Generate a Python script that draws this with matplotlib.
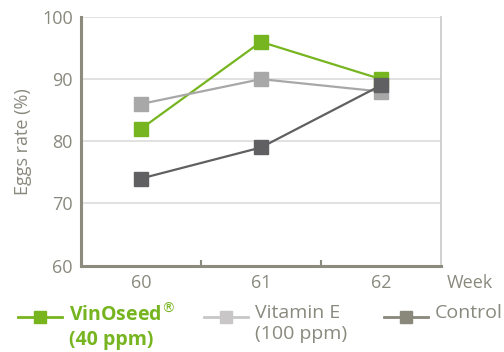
import matplotlib.pyplot as plt
from matplotlib.lines import Line2D

# data
weeks = ["60", "61", "62"]
vinoseed = [82, 96, 90]
vitamin_e = [86, 90, 88]
control = [74, 79, 89]
y_ticks = [60, 70, 80, 90, 100]

green = "#76b51f"
light = "#a8a8a8"
dark = "#606062"
axis_col = "#8c8b7e"
text_col = "#8a897e"

plt.rcParams["font.family"] = ["Open Sans", "DejaVu Sans"]

fig = plt.figure(figsize=(5.04, 3.52), dpi=100)
ax = fig.add_axes([0.1607, 0.2457, 0.7143, 0.7060])

x = range(len(weeks))
ax.plot(x, vinoseed, color=green, lw=1.6, marker="s", ms=10, mec=green, zorder=3)
ax.plot(x, vitamin_e, color=light, lw=1.6, marker="s", ms=10, mec=light, zorder=3)
ax.plot(x, control, color=dark, lw=1.6, marker="s", ms=10, mec=dark, zorder=3)

ax.set_xlim(-0.5, 2.5)
ax.set_ylim(60, 100)
ax.set_yticks(y_ticks)
ax.yaxis.grid(True, color="#dcdcdc", lw=1.2)
ax.set_axisbelow(True)

# category ticks between groups, labels centred
ax.set_xticks([0.5, 1.5])
ax.set_xticklabels([])
ax.set_xticks(list(x), minor=True)
ax.set_xticklabels(weeks, minor=True)
ax.tick_params(axis="x", which="major", direction="in", length=4, width=1.5,
               color=axis_col)
ax.tick_params(axis="x", which="minor", length=0, pad=6, labelsize=13,
               labelcolor=text_col)
ax.tick_params(axis="y", length=0, pad=6, labelsize=13, labelcolor=text_col)

for side in ["left", "bottom"]:
    ax.spines[side].set_color(axis_col)
    ax.spines[side].set_linewidth(2.2)
ax.spines["top"].set_visible(False)
ax.spines["right"].set_color("#c8c8c8")
ax.spines["right"].set_linewidth(1.2)

ax.set_ylabel("Eggs rate (%)", fontsize=13, color=text_col, labelpad=7)
fig.text(0.932, 0.195, "Week", fontsize=13, color=text_col, ha="center", va="center")

# legend built by hand below the plot
legend_items = [
    (0.036, "#78b41e", "VinOseed$^{®}$\n(40 ppm)", green, "bold"),
    (0.405, "#c8c6c6", "Vitamin E\n(100 ppm)", text_col, "normal"),
    (0.762, "#8a887a", "Control", text_col, "normal"),
]
for x0, hcol, label, tcol, weight in legend_items:
    fig.add_artist(Line2D([x0, x0 + 0.087], [0.099, 0.099], color=hcol, lw=2,
                          transform=fig.transFigure))
    fig.add_artist(Line2D([x0 + 0.0435], [0.099], color=hcol, marker="s", ms=9,
                          transform=fig.transFigure))
    fig.text(x0 + 0.1, 0.136, label, fontsize=14, color=tcol, fontweight=weight,
             ha="left", va="top", linespacing=1.22)

fig.savefig("out.png", dpi=100)
